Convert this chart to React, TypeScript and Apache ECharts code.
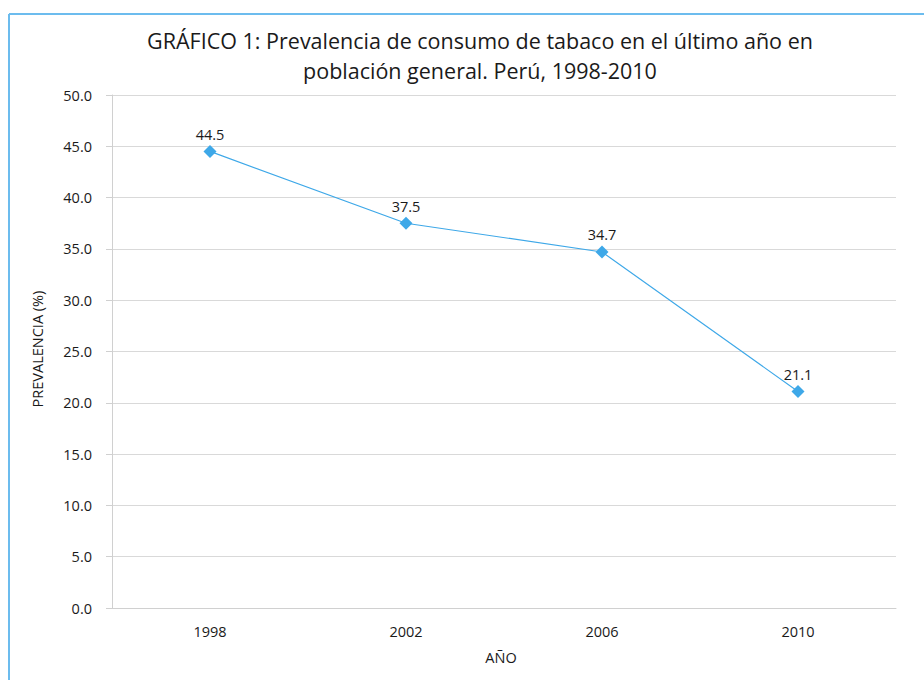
import React, { useEffect, useRef } from "react";
import * as echarts from "echarts";

const years = ["1998", "2002", "2006", "2010"];
const prevalence = [44.5, 37.5, 34.7, 21.1];
const titleLines = [
  "GRÁFICO 1: Prevalencia de consumo de tabaco en el último año en",
  "población general. Perú, 1998-2010",
];
const yAxisName = "PREVALENCIA (%)";
const xAxisName = "AÑO";

export default function App() {
  const ref = useRef<HTMLDivElement>(null);
  useEffect(() => {
    if (!ref.current) return;
    const chart = echarts.init(ref.current, null, { renderer: "svg" });
    const font = "'Open Sans', 'Noto Sans', sans-serif";
    chart.setOption({
      animation: false,
      textStyle: { fontFamily: font },
      title: {
        text: titleLines.join("\n"),
        left: 475,
        top: 20,
        textAlign: "center",
        textStyle: { fontSize: 21.5, fontWeight: "normal", color: "#1a1a1a", lineHeight: 30, fontFamily: font },
      },
      graphic: [
        { type: "line", shape: { x1: 9, y1: 14, x2: 924, y2: 14 }, style: { stroke: "#6cbcee", lineWidth: 2 } },
        { type: "line", shape: { x1: 9, y1: 14, x2: 9, y2: 680 }, style: { stroke: "#6cbcee", lineWidth: 2 } },
        {
          type: "text",
          x: 37,
          y: 349,
          rotation: Math.PI / 2,
          style: { text: yAxisName, fontSize: 14.5, fill: "#1a1a1a", fontFamily: font, align: "center", verticalAlign: "middle" },
        },
        {
          type: "text",
          x: 501,
          y: 657,
          style: { text: xAxisName, fontSize: 14.5, fill: "#1a1a1a", fontFamily: font, align: "center", verticalAlign: "middle" },
        },
      ],
      grid: { left: 112, right: 28, top: 95, bottom: 72, containLabel: false },
      xAxis: {
        type: "category",
        data: years,
        boundaryGap: true,
        axisLine: { show: true, lineStyle: { color: "#d0d0d0", width: 1 } },
        axisTick: { show: false },
        axisLabel: { color: "#1a1a1a", fontSize: 14.5, margin: 16, fontFamily: font },
      },
      yAxis: {
        type: "value",
        min: 0,
        max: 50,
        interval: 5,
        axisLine: { show: true, lineStyle: { color: "#d0d0d0", width: 1 } },
        axisTick: { show: true, length: 6, lineStyle: { color: "#d0d0d0" } },
        splitLine: { show: true, lineStyle: { color: "#d9d9d9", width: 1 } },
        axisLabel: {
          color: "#1a1a1a",
          fontSize: 14.5,
          margin: 20,
          fontFamily: font,
          formatter: (v: number) => v.toFixed(1),
        },
      },
      series: [
        {
          type: "line",
          data: prevalence,
          symbol: "diamond",
          symbolSize: 13,
          lineStyle: { color: "#3ea8e8", width: 1.2 },
          itemStyle: { color: "#3ea8e8" },
          label: {
            show: true,
            position: "top",
            distance: 3,
            color: "#1a1a1a",
            fontSize: 14.5,
            fontFamily: font,
            formatter: (p: any) => Number(p.value).toFixed(1),
          },
        },
      ],
    });
    return () => chart.dispose();
  }, []);
  return (
    <div
      ref={ref}
      style={{ position: "fixed", left: 0, top: 0, width: 924, height: 680, background: "#fff" }}
    />
  );
}
